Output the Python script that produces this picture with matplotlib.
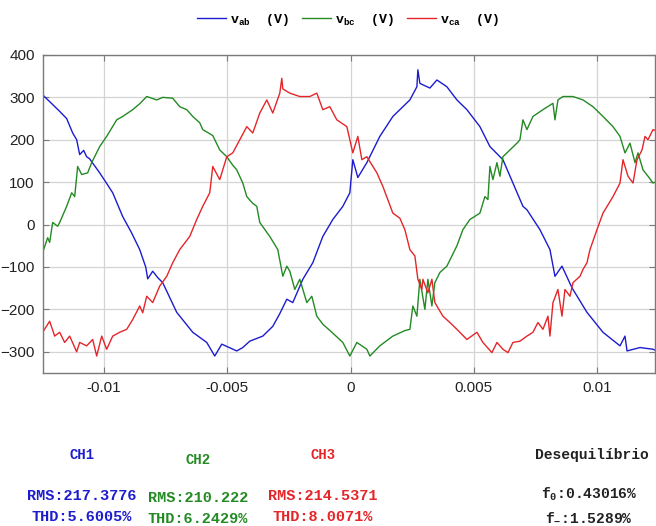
import numpy as np
import matplotlib
matplotlib.use("Agg")
import matplotlib.pyplot as plt

plt.rcParams['mathtext.fontset'] = 'custom'
plt.rcParams['mathtext.rm'] = 'Liberation Mono:bold'
plt.rcParams['mathtext.it'] = 'Liberation Mono:bold'
plt.rcParams['mathtext.bf'] = 'Liberation Mono:bold'

# ---------------- data (time in ms, voltage in V) ----------------
t_ab = [-12.478, -12.194, -11.788, -11.505, -11.261, -11.099, -10.977, -10.815, -10.694, -10.572,
        -10.450, -10.166, -9.883, -9.639, -9.234, -8.869, -8.544, -8.301, -8.220, -8.017,
        -7.815, -7.612, -7.044, -6.395, -5.827, -5.503, -5.219, -4.611, -4.367, -4.084,
        -3.556, -3.151, -2.867, -2.583, -2.340, -1.934, -1.529, -1.123, -0.718, -0.312,
        -0.028, 0.093, 0.296, 0.661, 1.188, 1.715, 1.999, 2.405, 2.689, 2.729,
        2.810, 3.216, 3.500, 3.905, 4.311, 4.716, 5.243, 5.649, 6.176, 6.582,
        6.987, 7.149, 7.676, 8.082, 8.285, 8.569, 8.974, 9.582, 10.231, 10.921,
        11.123, 11.205, 11.732, 12.259, 12.340]
v_ab = [306, 290, 267, 250, 216, 200, 165, 175, 160, 155,
        145, 122, 97, 75, 19, -20, -59, -100, -128, -110,
        -125, -137, -207, -254, -278, -310, -282, -298, -290, -275,
        -263, -240, -210, -176, -184, -129, -90, -28, 12, 43,
        75, 153, 111, 146, 208, 255, 271, 294, 325, 365,
        333, 322, 341, 325, 294, 271, 231, 184, 153, 98,
        43, 35, -12, -59, -122, -98, -149, -207, -254, -286,
        -263, -298, -290, -294, -296]

t_bc = [-12.478, -12.275, -12.194, -12.072, -11.870, -11.788, -11.505, -11.302, -11.180, -11.059,
        -10.896, -10.653, -10.491, -10.166, -9.883, -9.477, -9.234, -8.828, -8.544, -8.260,
        -7.855, -7.612, -7.206, -6.922, -6.638, -6.395, -6.111, -5.990, -5.584, -5.300,
        -5.016, -4.773, -4.611, -4.367, -4.205, -3.962, -3.800, -3.678, -3.273, -2.948,
        -2.745, -2.583, -2.461, -2.259, -2.056, -1.772, -1.569, -1.367, -1.123, -0.718,
        -0.312, -0.028, 0.255, 0.661, 0.783, 1.188, 1.715, 2.202, 2.405, 2.526,
        2.689, 2.810, 3.013, 3.135, 3.297, 3.418, 3.621, 3.905, 4.311, 4.554,
        4.838, 5.243, 5.446, 5.568, 5.649, 5.771, 5.933, 6.054, 6.176, 6.460,
        6.744, 6.865, 6.987, 7.149, 7.393, 7.798, 8.204, 8.285, 8.406, 8.609,
        9.015, 9.420, 9.826, 10.231, 10.637, 10.921, 11.123, 11.326, 11.529, 11.651,
        11.853, 12.056, 12.259, 12.340]
v_bc = [-66, -31, -42, 5, -4, 5, 43, 75, 66, 137,
        118, 122, 146, 184, 208, 247, 255, 271, 285, 302,
        294, 300, 298, 278, 271, 255, 240, 224, 210, 176,
        160, 140, 129, 98, 66, 50, 43, 5, -28, -59,
        -122, -98, -110, -153, -129, -184, -169, -216, -235, -256,
        -278, -310, -278, -294, -310, -286, -263, -250, -247, -192,
        -216, -129, -200, -129, -192, -137, -113, -98, -50, -12,
        12, 27, 66, 59, 137, 106, 146, 114, 160, 176,
        192, 200, 247, 224, 255, 271, 286, 247, 294, 302,
        302, 294, 278, 255, 231, 208, 169, 192, 146, 169,
        129, 114, 98, 100]

t_ca = [-12.478, -12.194, -11.991, -11.788, -11.586, -11.383, -11.099, -10.977, -10.694, -10.450,
        -10.288, -10.085, -9.883, -9.639, -9.355, -9.071, -8.828, -8.544, -8.423, -8.260,
        -8.017, -7.733, -7.449, -7.206, -6.922, -6.517, -6.233, -5.990, -5.706, -5.584,
        -5.300, -5.016, -4.773, -4.489, -4.205, -3.962, -3.678, -3.394, -3.151, -2.867,
        -2.786, -2.745, -2.461, -2.056, -1.650, -1.367, -1.123, -0.839, -0.556, -0.150,
        -0.028, 0.093, 0.296, 0.458, 0.661, 1.067, 1.310, 1.715, 1.999, 2.202,
        2.405, 2.608, 2.729, 2.891, 2.932, 3.135, 3.297, 3.418, 3.743, 4.027,
        4.311, 4.716, 5.122, 5.365, 5.730, 5.933, 6.176, 6.379, 6.582, 6.865,
        7.149, 7.393, 7.595, 7.798, 8.001, 8.082, 8.204, 8.406, 8.569, 8.690,
        8.893, 9.015, 9.299, 9.420, 9.582, 9.704, 9.988, 10.231, 10.637, 10.921,
        11.042, 11.245, 11.448, 11.610, 11.813, 11.934, 12.056, 12.259, 12.340]
v_ca = [-254, -228, -263, -254, -278, -263, -300, -278, -286, -271,
        -310, -263, -294, -263, -254, -247, -224, -192, -208, -169,
        -184, -145, -122, -90, -59, -28, 12, 43, 75, 137,
        106, 160, 169, 200, 231, 216, 263, 294, 263, 310,
        345, 320, 310, 302, 302, 310, 271, 278, 247, 231,
        200, 169, 208, 153, 160, 122, 90, 27, 15, -12,
        -59, -74, -129, -153, -129, -161, -129, -184, -216, -231,
        -247, -271, -254, -278, -302, -278, -294, -302, -278, -275,
        -263, -254, -231, -247, -216, -263, -184, -153, -216, -153,
        -169, -137, -122, -106, -90, -59, -12, 27, 66, 98,
        153, 114, 98, 153, 176, 208, 200, 224, 222]

x_ticks = [-0.01, -0.005, 0, 0.005, 0.01]
x_tick_labels = ['-0.01', '-0.005', '0', '0.005', '0.01']
y_ticks = [-300, -200, -100, 0, 100, 200, 300, 400]

channels = ['CH1', 'CH2', 'CH3']
rms_values = ['217.3776', '210.222', '214.5371']
thd_values = ['5.6005', '6.2429', '8.0071']
f0_value = '0.43016'
fneg_value = '1.5289'

c_blue = '#1c1ccf'
c_green = '#248a24'
c_red = '#e4262a'

# ---------------- figure ----------------
fig = plt.figure(figsize=(6.56, 5.26), dpi=100)
ax = fig.add_axes([0.0655, 0.2909, 0.933, 0.6046])

ax.plot(np.array(t_ab) / 1000, v_ab, color=c_blue, lw=1.0, label=r'$\mathrm{v}_{\mathrm{ab}}$  (V)')
ax.plot(np.array(t_bc) / 1000, v_bc, color=c_green, lw=1.0, label=r'$\mathrm{v}_{\mathrm{bc}}$  (V)')
ax.plot(np.array(t_ca) / 1000, v_ca, color=c_red, lw=1.0, label=r'$\mathrm{v}_{\mathrm{ca}}$  (V)')

ax.set_xlim(-0.012465, 0.01234)
ax.set_ylim(-350, 400)
ax.set_xticks(x_ticks)
ax.set_xticklabels(x_tick_labels)
ax.set_yticks(y_ticks)
ax.grid(True, color='#d4d4d4', lw=0.9)
ax.set_axisbelow(True)
for s in ax.spines.values():
    s.set_color('#7a7a7a')
    s.set_linewidth(1.0)
ax.tick_params(direction='in', length=4, color='#7a7a7a', top=True, right=True,
               labelsize=11, pad=6)
for lab in ax.get_xticklabels() + ax.get_yticklabels():
    lab.set_fontfamily('Liberation Sans')
    lab.set_color('#222222')

leg = fig.legend(loc='center', bbox_to_anchor=(0.53, 0.962), ncol=3, frameon=False,
                 handlelength=2.2, handletextpad=0.3, columnspacing=1.0,
                 prop={'family': 'Liberation Mono', 'weight': 'bold', 'size': 9.5})

# ---------------- bottom text ----------------
mono = dict(family='Liberation Mono', weight='bold', ha='center', va='center')
cols = [c_blue, c_green, c_red]
xs = [0.125, 0.302, 0.492]
ys_ch = [0.135, 0.125, 0.135]
ys_rms = [0.057, 0.053, 0.057]
ys_thd = [0.017, 0.013, 0.017]
for i in range(3):
    fig.text(xs[i], ys_ch[i], channels[i], color=cols[i], fontsize=10, **mono)
    fig.text(xs[i], ys_rms[i], 'RMS:' + rms_values[i], color=cols[i], fontsize=11, **mono)
    fig.text(xs[i], ys_thd[i], 'THD:' + thd_values[i] + '%', color=cols[i], fontsize=11, **mono)

fig.text(0.902, 0.135, 'Desequilíbrio', color='#222222', fontsize=10.5, **mono)
fig.text(0.898, 0.061, r'f$_{0}$:' + f0_value + '%', color='#222222', fontsize=10.5, **mono)
fig.text(0.897, 0.017, r'f$_{-}$:' + fneg_value + '%', color='#222222', fontsize=10.5, **mono)

fig.savefig('out.png', dpi=100)
